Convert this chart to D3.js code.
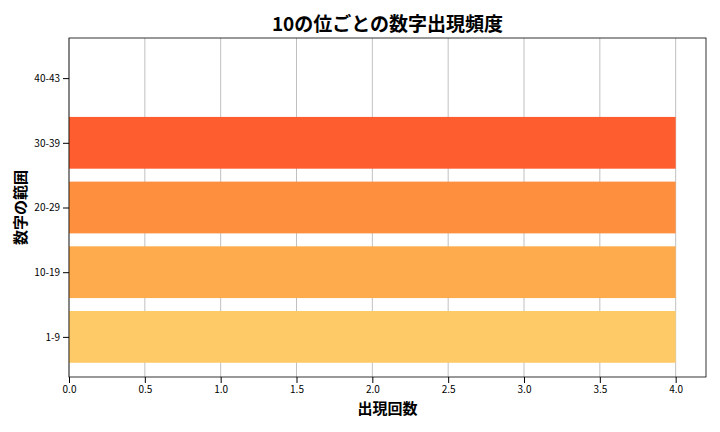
<!DOCTYPE html><html><head><meta charset="utf-8"><script src="https://cdn.jsdelivr.net/npm/d3@7"></script>
<style>body{margin:0;background:#fff}text{font-family:"Noto Sans CJK JP","Noto Sans",sans-serif}</style></head><body>
<svg id="c" width="720" height="432"></svg>
<script>
const categories=["1-9","10-19","20-29","30-39","40-43"];
const values=[4,4,4,4,0];
const colors=["#FDCA67","#FDAB4C","#FD8F3F","#FD5D2F","#E8412A"];
const xTicks=[0,0.5,1,1.5,2,2.5,3,3.5,4];
const svg=d3.select("#c");
const L=69,R=706,T=38,B=377;
const x=d3.scaleLinear().domain([0,4.2]).range([L,R]);
const y=d3.scaleLinear().domain([-0.62,4.62]).range([B,T]);
svg.append("g").selectAll("line").data(xTicks).join("line")
 .attr("x1",d=>x(d)).attr("x2",d=>x(d)).attr("y1",T).attr("y2",B).attr("stroke","#b0b0b0").attr("stroke-width",0.8);
svg.append("g").selectAll("rect").data(values).join("rect")
 .attr("x",x(0)).attr("width",d=>x(d)-x(0)).attr("y",(d,i)=>y(i+0.4)).attr("height",(d,i)=>y(i-0.4)-y(i+0.4)).attr("fill",(d,i)=>colors[i]);
svg.append("rect").attr("x",L).attr("y",T).attr("width",R-L).attr("height",B-T).attr("fill","none").attr("stroke","#000").attr("stroke-width",0.8);
const xa=svg.append("g").attr("transform",`translate(0,${B})`).call(d3.axisBottom(x).tickValues(xTicks).tickFormat(d3.format(".1f")).tickSizeOuter(0));
xa.select(".domain").remove();xa.selectAll("text").attr("font-size",10).attr("fill","#000");
const ya=svg.append("g").attr("transform",`translate(${L},0)`).call(d3.axisLeft(y).tickValues([0,1,2,3,4]).tickFormat(i=>categories[i]).tickSizeOuter(0));
ya.select(".domain").remove();ya.selectAll("text").attr("font-size",10).attr("fill","#000");
svg.append("text").attr("x",(L+R)/2).attr("y",31).attr("text-anchor","middle").attr("font-size",19).attr("font-weight","bold").text("10の位ごとの数字出現頻度");
svg.append("text").attr("x",(L+R)/2).attr("y",414).attr("text-anchor","middle").attr("font-size",15).attr("font-weight","bold").text("出現回数");
svg.append("text").attr("transform",`translate(26,${(T+B)/2}) rotate(-90)`).attr("text-anchor","middle").attr("font-size",15).attr("font-weight","bold").text("数字の範囲");
</script></body></html>
